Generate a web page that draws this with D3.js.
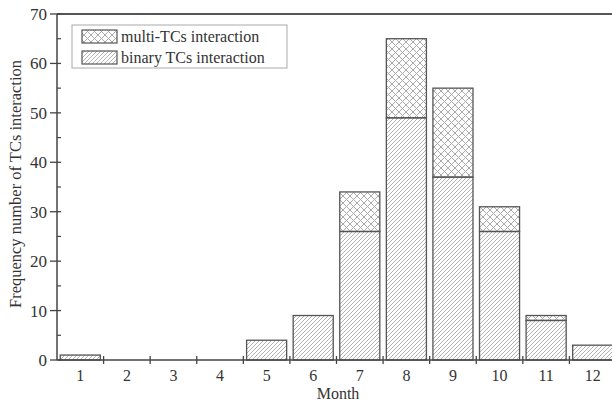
<!DOCTYPE html>
<html>
<head>
<meta charset="utf-8">
<script src="https://cdn.jsdelivr.net/npm/d3@7"></script>
<style>
  body { margin: 0; background: #fff; }
  text { font-family: "Liberation Serif", "DejaVu Serif", serif; fill: #333; }
</style>
</head>
<body>
<div id="canvas"></div>
<script>
"use strict"

/* Data */
let months = ["1", "2", "3", "4", "5", "6", "7", "8", "9", "10", "11", "12"];
let binaryCounts = [1, 0, 0, 0, 4, 9, 26, 49, 37, 26, 8, 3];
let multiCounts = [0, 0, 0, 0, 0, 0, 8, 16, 18, 5, 1, 0];
let yTicks = [0, 10, 20, 30, 40, 50, 60, 70];
let yMinorTicks = [5, 15, 25, 35, 45, 55, 65];
let legendLabels = ["multi-TCs interaction", "binary TCs interaction"];

/* Drawing sizes */
let svgWidth = 612;
let svgHeight = 401;
let leftX = 57;
let rightX = 616;
let topY = 14;
let bottomY = 360;

let svg = d3.select("#canvas")
    .append("svg")
    .attr("width", svgWidth)
    .attr("height", svgHeight);

/* Hatch patterns */
let defs = svg.append("defs");

let diag = defs.append("pattern")
    .attr("id", "diag")
    .attr("patternUnits", "userSpaceOnUse")
    .attr("width", 4)
    .attr("height", 4);
diag.append("path")
    .attr("d", "M-1,1 l2,-2 M0,4 l4,-4 M3,5 l2,-2")
    .attr("stroke", "#aaa")
    .attr("stroke-width", 0.9);

let cross = defs.append("pattern")
    .attr("id", "cross")
    .attr("patternUnits", "userSpaceOnUse")
    .attr("width", 7)
    .attr("height", 7);
cross.append("path")
    .attr("d", "M0,0 L7,7 M7,0 L0,7")
    .attr("stroke", "#aaa")
    .attr("stroke-width", 1);

/* Scales */
let xScale = d3.scaleBand()
    .domain(months)
    .range([leftX, rightX])
    .paddingInner(0.14)
    .paddingOuter(0.07);

let yScale = d3.scaleLinear()
    .domain([0, 70])
    .range([bottomY, topY]);

/* Binary bars */
svg.selectAll("rect.binary")
    .data(months)
    .join("rect")
    .attr("class", "binary")
    .attr("x", function (m) { return xScale(m); })
    .attr("width", xScale.bandwidth())
    .attr("y", function (m, i) { return yScale(binaryCounts[i]); })
    .attr("height", function (m, i) { return yScale(0) - yScale(binaryCounts[i]); })
    .attr("fill", "url(#diag)")
    .attr("stroke", "#555")
    .attr("stroke-width", 1.3);

/* Multi bars stacked on top */
svg.selectAll("rect.multi")
    .data(months.filter(function (m, i) { return multiCounts[i] > 0; }))
    .join("rect")
    .attr("class", "multi")
    .attr("x", function (m) { return xScale(m); })
    .attr("width", xScale.bandwidth())
    .attr("y", function (m) {
        let i = months.indexOf(m);
        return yScale(binaryCounts[i] + multiCounts[i]);
    })
    .attr("height", function (m) {
        let i = months.indexOf(m);
        return yScale(binaryCounts[i]) - yScale(binaryCounts[i] + multiCounts[i]);
    })
    .attr("fill", "url(#cross)")
    .attr("stroke", "#555")
    .attr("stroke-width", 1.3);

/* Top frame line */
svg.append("line")
    .attr("x1", leftX)
    .attr("x2", svgWidth)
    .attr("y1", topY)
    .attr("y2", topY)
    .attr("stroke", "#555")
    .attr("stroke-width", 1.8);

/* Y axis */
svg.append("line")
    .attr("x1", leftX).attr("x2", leftX)
    .attr("y1", topY).attr("y2", bottomY)
    .attr("stroke", "#444")
    .attr("stroke-width", 1.5);

svg.selectAll("line.ymajor")
    .data(yTicks)
    .join("line")
    .attr("class", "ymajor")
    .attr("x1", leftX - 7)
    .attr("x2", leftX + 4)
    .attr("y1", function (d) { return yScale(d); })
    .attr("y2", function (d) { return yScale(d); })
    .attr("stroke", "#444")
    .attr("stroke-width", 1.3);

svg.selectAll("line.yminor")
    .data(yMinorTicks)
    .join("line")
    .attr("class", "yminor")
    .attr("x1", leftX)
    .attr("x2", leftX + 4)
    .attr("y1", function (d) { return yScale(d); })
    .attr("y2", function (d) { return yScale(d); })
    .attr("stroke", "#444")
    .attr("stroke-width", 1.2);

svg.selectAll("text.ylab")
    .data(yTicks)
    .join("text")
    .attr("class", "ylab")
    .attr("x", leftX - 10)
    .attr("y", function (d) { return yScale(d); })
    .attr("dy", "0.35em")
    .attr("text-anchor", "end")
    .attr("font-size", 17)
    .text(function (d) { return d; });

/* X axis */
svg.append("line")
    .attr("x1", leftX).attr("x2", svgWidth)
    .attr("y1", bottomY).attr("y2", bottomY)
    .attr("stroke", "#444")
    .attr("stroke-width", 1.5);

/* ticks between the months */
let xBounds = months.map(function (m, i) { return leftX + (i + 1) * xScale.step(); });
svg.selectAll("line.xtick")
    .data(xBounds)
    .join("line")
    .attr("class", "xtick")
    .attr("x1", function (d) { return d; })
    .attr("x2", function (d) { return d; })
    .attr("y1", bottomY - 4)
    .attr("y2", bottomY + 4)
    .attr("stroke", "#444")
    .attr("stroke-width", 1.3);

svg.selectAll("text.xlab")
    .data(months)
    .join("text")
    .attr("class", "xlab")
    .attr("x", function (m) { return xScale(m) + xScale.bandwidth() / 2; })
    .attr("y", bottomY + 21)
    .attr("text-anchor", "middle")
    .attr("font-size", 16)
    .text(function (m) { return m; });

/* Axis titles */
svg.append("text")
    .attr("x", 338)
    .attr("y", 399)
    .attr("text-anchor", "middle")
    .attr("font-size", 16)
    .text("Month");

svg.append("text")
    .attr("transform", "translate(21, 184) rotate(-90)")
    .attr("text-anchor", "middle")
    .attr("font-size", 16.5)
    .text("Frequency number of TCs interaction");

/* Legend */
svg.append("rect")
    .attr("x", 72)
    .attr("y", 25)
    .attr("width", 215)
    .attr("height", 43)
    .attr("fill", "white")
    .attr("stroke", "#aaa")
    .attr("stroke-width", 1);

let legendFills = ["url(#cross)", "url(#diag)"];
for (let i = 0; i < 2; i++) {
    svg.append("rect")
        .attr("x", 82)
        .attr("y", 30 + i * 21)
        .attr("width", 35)
        .attr("height", 13)
        .attr("fill", legendFills[i])
        .attr("stroke", "#555")
        .attr("stroke-width", 1.2);

    svg.append("text")
        .attr("x", 121)
        .attr("y", 36.5 + i * 21)
        .attr("dy", "0.35em")
        .attr("font-size", 16)
        .text(legendLabels[i]);
}
</script>
</body>
</html>
